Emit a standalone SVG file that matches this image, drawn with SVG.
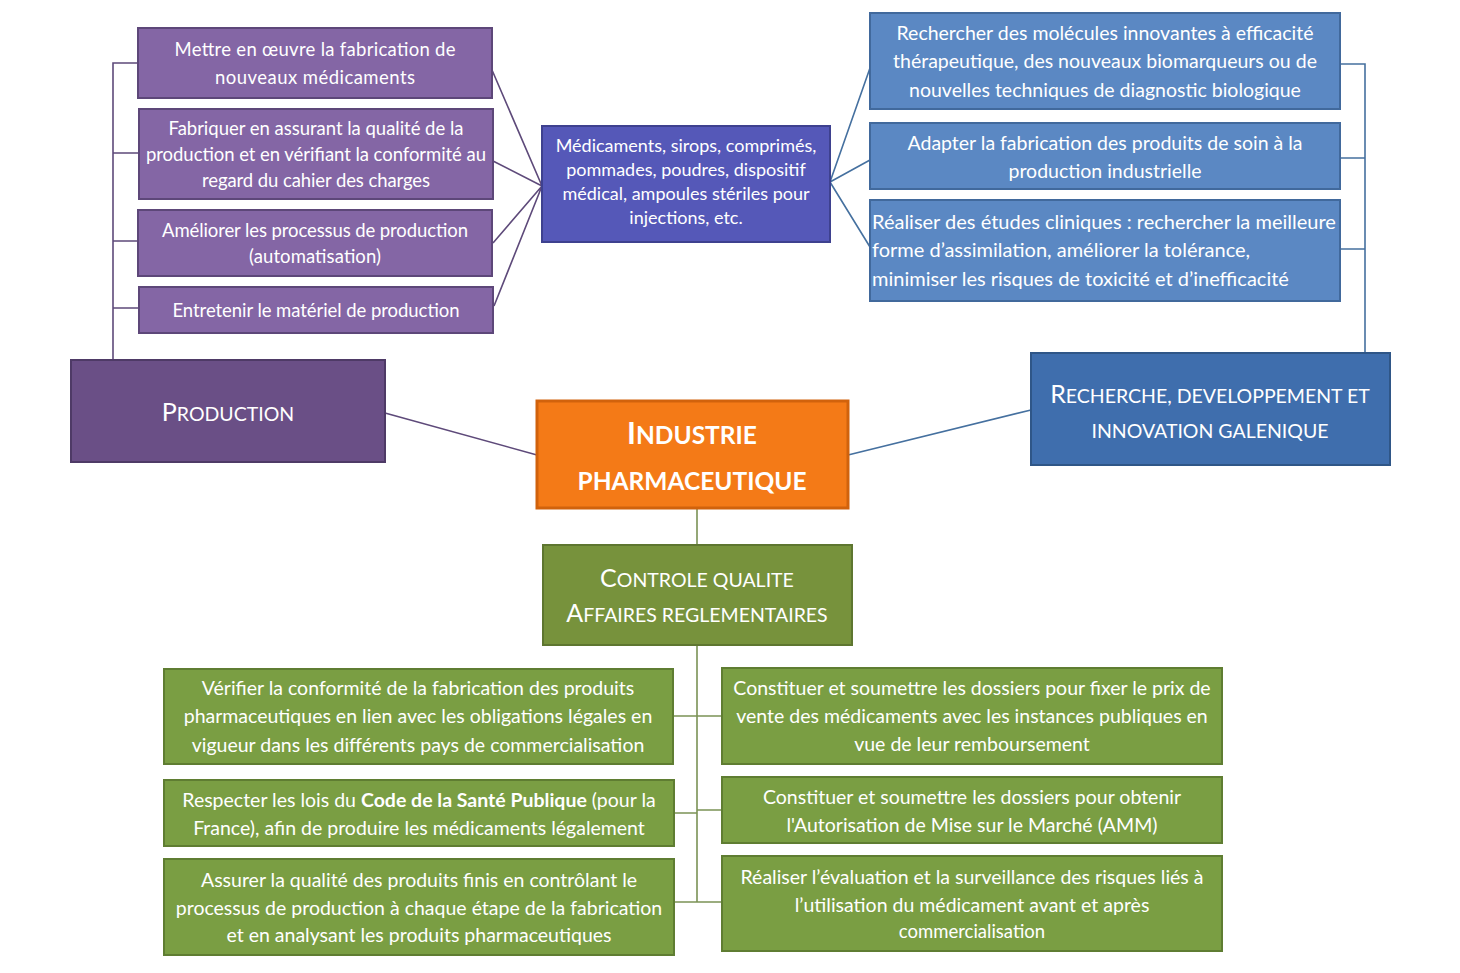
<svg xmlns="http://www.w3.org/2000/svg" width="1460" height="973" viewBox="0 0 1460 973">
<style>
text{font-family:Lato,"Open Sans","Liberation Sans",sans-serif;fill:#fff;text-anchor:middle}
.t{font-size:19.5px}
.tp{font-size:18.5px}
.m{font-size:18px}
.s{font-size:18.5px}
.cap{font-size:19.5px}
.big{font-size:25px}
.b{font-weight:bold}
.pu{fill:#8466a5;stroke:#5d4779;stroke-width:2}
.pd{fill:#6a4f86;stroke:#4e3a66;stroke-width:2}
.md{fill:#5558b8;stroke:#3e418f;stroke-width:2}
.bl{fill:#5b88c3;stroke:#41699c;stroke-width:2}
.bd{fill:#3f6ead;stroke:#2f5687;stroke-width:2}
.or{fill:#f47a17;stroke:#d1620c;stroke-width:3}
.gr{fill:#7a9e43;stroke:#5f7d32;stroke-width:2}
.gd{fill:#77923c;stroke:#5e7630;stroke-width:2}
.lp{stroke:#5e4a7a;stroke-width:1.6;fill:none}
.lb{stroke:#45709f;stroke-width:1.6;fill:none}
.lg{stroke:#7b9255;stroke-width:1.6;fill:none}
</style>
<rect width="1460" height="973" fill="#fff"/>
<g id="connectors">
<path class="lp" d="M113,360V63H138M113,153H139M113,241H138M113,308H139"/>
<path class="lp" d="M492,70L542,186M493,161L542,186M493,243L542,186M494,306L542,186"/>
<path class="lp" d="M385,413L537,455"/>
<path class="lb" d="M1365,353V64H1340M1340,158H1365M1340,249H1365"/>
<path class="lb" d="M830,182L870,68M830,182L870,160M830,182L870,247"/>
<path class="lb" d="M848,455L1031,410"/>
<path class="lg" d="M697,508V545M697,645V902M673,716H722M674,813H697M674,902H722M697,810H722"/>
</g>
<g id="n-p1"><rect class="pu" x="138" y="28" width="354" height="70"/><text class="tp" x="315" y="56" textLength="281">Mettre en œuvre la fabrication de</text><text class="tp" x="315" y="84" textLength="200">nouveaux médicaments</text></g>
<g id="n-p2"><rect class="pu" x="139" y="109" width="354" height="90"/><text class="tp" x="316" y="135" textLength="295">Fabriquer en assurant la qualité de la</text><text class="tp" x="316" y="161" textLength="340">production et en vérifiant la conformité au</text><text class="tp" x="316" y="187" textLength="228">regard du cahier des charges</text></g>
<g id="n-p3"><rect class="pu" x="138" y="210" width="354" height="66"/><text class="tp" x="315" y="237" textLength="306">Améliorer les processus de production</text><text class="tp" x="315" y="263" textLength="132">(automatisation)</text></g>
<g id="n-p4"><rect class="pu" x="139" y="287" width="354" height="46"/><text class="tp" x="316" y="317" textLength="287">Entretenir le matériel de production</text></g>
<g id="n-prod"><rect class="pd" x="71" y="360" width="314" height="102"/><text x="228" y="421"><tspan class="big">P</tspan><tspan class="cap">RODUCTION</tspan></text></g>
<g id="n-med"><rect class="md" x="542" y="126" width="288" height="116"/><text class="m" x="686" y="152">Médicaments, sirops, comprimés,</text><text class="m" x="686" y="176">pommades, poudres, dispositif</text><text class="m" x="686" y="200">médical, ampoules stériles pour</text><text class="m" x="686" y="224">injections, etc.</text></g>
<g id="n-r1"><rect class="bl" x="870" y="13" width="470" height="96"/><text class="t" x="1105" y="40">Rechercher des molécules innovantes à efficacité</text><text class="t" x="1105" y="68">thérapeutique, des nouveaux biomarqueurs ou de</text><text class="t" x="1105" y="97">nouvelles techniques de diagnostic biologique</text></g>
<g id="n-r2"><rect class="bl" x="870" y="123" width="470" height="66"/><text class="t" x="1105" y="150">Adapter la fabrication des produits de soin à la</text><text class="t" x="1105" y="178">production industrielle</text></g>
<g id="n-r3"><rect class="bl" x="870" y="200" width="470" height="101"/><text class="t" x="872" y="229" style="text-anchor:start;font-size:20px">Réaliser des études cliniques : rechercher la meilleure</text><text class="t" x="872" y="257" style="text-anchor:start;font-size:20px">forme d’assimilation, améliorer la tolérance,</text><text class="t" x="872" y="286" style="text-anchor:start;font-size:20px">minimiser les risques de toxicité et d’inefficacité</text></g>
<g id="n-rech"><rect class="bd" x="1031" y="353" width="359" height="112"/><text x="1210" y="403"><tspan class="big">R</tspan><tspan class="cap">ECHERCHE, DEVELOPPEMENT ET</tspan></text><text class="cap" x="1210" y="438">INNOVATION GALENIQUE</text></g>
<g id="n-ind"><rect class="or" x="537" y="401" width="311" height="107"/><text class="b" x="692" y="444"><tspan style="font-size:30px">I</tspan><tspan style="font-size:24.5px">NDUSTRIE</tspan></text><text class="b" x="692" y="490" style="font-size:24.5px">PHARMACEUTIQUE</text></g>
<g id="n-cq"><rect class="gd" x="543" y="545" width="309" height="100"/><text x="697" y="587"><tspan class="big">C</tspan><tspan class="cap">ONTROLE QUALITE</tspan></text><text x="697" y="622"><tspan class="big">A</tspan><tspan class="cap">FFAIRES REGLEMENTAIRES</tspan></text></g>
<g id="n-g1"><rect class="gr" x="164" y="669" width="509" height="95"/><text class="t" x="418" y="695">Vérifier la conformité de la fabrication des produits</text><text class="t" x="418" y="723">pharmaceutiques en lien avec les obligations légales en</text><text class="t" x="418" y="752">vigueur dans les différents pays de commercialisation</text></g>
<g id="n-g2"><rect class="gr" x="164" y="780" width="510" height="66"/><text class="t" x="419" y="807">Respecter les lois du <tspan class="b">Code de la Santé Publique</tspan> (pour la</text><text class="t" x="419" y="835">France), afin de produire les médicaments légalement</text></g>
<g id="n-g3"><rect class="gr" x="164" y="859" width="510" height="96"/><text class="t" x="419" y="887">Assurer la qualité des produits finis en contrôlant le</text><text class="t" x="419" y="915">processus de production à chaque étape de la fabrication</text><text class="t" x="419" y="942">et en analysant les produits pharmaceutiques</text></g>
<g id="n-g4"><rect class="gr" x="722" y="668" width="500" height="96"/><text class="t" x="972" y="695">Constituer et soumettre les dossiers pour fixer le prix de</text><text class="t" x="972" y="723">vente des médicaments avec les instances publiques en</text><text class="t" x="972" y="751">vue de leur remboursement</text></g>
<g id="n-g5"><rect class="gr" x="722" y="777" width="500" height="66"/><text class="t" x="972" y="804">Constituer et soumettre les dossiers pour obtenir</text><text class="t" x="972" y="832">l'Autorisation de Mise sur le Marché (AMM)</text></g>
<g id="n-g6"><rect class="gr" x="722" y="856" width="500" height="95"/><text class="t" x="972" y="884">Réaliser l’évaluation et la surveillance des risques liés à</text><text class="t" x="972" y="912">l’utilisation du médicament avant et après</text><text class="s" x="972" y="938">commercialisation</text></g>
</svg>
